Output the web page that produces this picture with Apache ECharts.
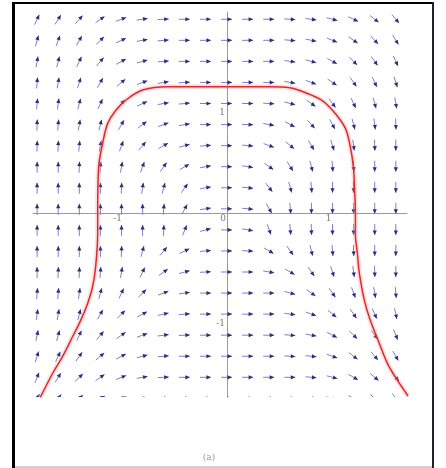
<!DOCTYPE html>
<html>
<head>
<meta charset="utf-8">
<script src="https://cdn.jsdelivr.net/npm/echarts@6/dist/echarts.min.js"></script>
<style>
  html, body { margin: 0; padding: 0; background: #fff; }
  #chart { width: 446px; height: 468px; }
</style>
</head>
<body>
<div id="chart"></div>
<script>
// Grid of sample points for the direction field
const xCols = [-1.8, -1.6, -1.4, -1.2, -1.0, -0.8, -0.6, -0.4, -0.2, 0, 0.2, 0.4, 0.6, 0.8, 1.0, 1.2, 1.4, 1.6];
const yRows = [1.84, 1.64, 1.44, 1.24, 1.04, 0.84, 0.64, 0.44, 0.24, 0.04, -0.16, -0.36, -0.56, -0.76, -0.96, -1.16, -1.36, -1.56, -1.76];

// Arrow direction (degrees, 0 = right, 90 = up), one row per entry of yRows
const arrowAngles = [
  [65, 58, 48, 35, 20, 8, 3, 0, 0, 0, 0, 0, -3, -8, -15, -25, -38, -50],
  [75, 70, 60, 45, 25, 10, 5, 0, 0, 0, 0, 0, -5, -12, -22, -35, -48, -58],
  [80, 75, 65, 50, 30, 15, 5, 0, 0, 0, 0, 0, -8, -15, -28, -45, -55, -65],
  [85, 80, 72, 60, 40, 20, 10, 3, 0, 0, 0, 0, -10, -20, -35, -55, -65, -72],
  [85, 82, 75, 65, 48, 25, 10, 5, 0, 0, 0, -3, -15, -35, -52, -65, -75, -80],
  [88, 85, 80, 75, 60, 38, 20, 10, 0, 0, -2, -10, -28, -48, -62, -75, -82, -88],
  [88, 88, 85, 80, 70, 50, 30, 15, 5, 0, -5, -20, -40, -60, -72, -82, -88, -90],
  [90, 90, 88, 85, 80, 70, 55, 30, 10, 0, -8, -35, -58, -75, -85, -88, -90, -90],
  [90, 90, 90, 90, 88, 82, 75, 55, 10, 0, -5, -52, -75, -85, -90, -90, -90, -90],
  [90, 90, 90, 90, 90, 90, 85, 62, 8, 0, -5, -60, -85, -90, -90, -90, -90, -90],
  [90, 90, 90, 90, 90, 90, 88, 68, 15, 0, -10, -70, -85, -88, -90, -90, -90, -90],
  [90, 90, 90, 90, 88, 75, 50, 25, 5, 0, -3, -30, -55, -75, -85, -88, -90, -90],
  [90, 88, 88, 85, 80, 65, 35, 15, 3, 0, 0, -10, -30, -55, -72, -82, -88, -90],
  [85, 85, 82, 75, 65, 45, 20, 8, 0, 0, 0, 0, -15, -35, -55, -70, -80, -85],
  [82, 80, 75, 60, 45, 28, 12, 5, 0, 0, 0, 0, -8, -20, -40, -55, -65, -78],
  [78, 75, 65, 50, 35, 20, 8, 3, 0, 0, 0, 0, -5, -10, -28, -45, -55, -68],
  [72, 65, 55, 40, 28, 15, 5, 0, 0, 0, 0, 0, -3, -5, -20, -38, -50, -60],
  [68, 58, 45, 35, 22, 10, 3, 0, 0, 0, 0, 0, 0, -5, -15, -30, -40, -50],
  [62, 53, 41, 29, 18, 9, 4, 0, 0, 0, 0, 0, -2, -6, -15, -28, -42, -55]
];

// Solution curve (x, y)
const curveX = [-1.77, -1.651, -1.557, -1.462, -1.387, -1.321, -1.274, -1.245, -1.226, -1.226, -1.217, -1.179, -1.132, -1.057, -0.943, -0.792, -0.566, -0.377, 0, 0.406, 0.594, 0.745, 0.906, 1.028, 1.123, 1.170, 1.198, 1.208, 1.217, 1.217, 1.236, 1.255, 1.302, 1.358, 1.443, 1.519, 1.613, 1.716];
const curveY = [-1.75, -1.519, -1.358, -1.170, -1.019, -0.858, -0.698, -0.509, -0.198, 0, 0.434, 0.660, 0.849, 0.972, 1.085, 1.170, 1.198, 1.198, 1.198, 1.198, 1.189, 1.142, 1.066, 0.943, 0.802, 0.623, 0.434, 0.245, 0, -0.198, -0.387, -0.575, -0.830, -1.019, -1.236, -1.425, -1.585, -1.737];

// Tick labels placed along the axes that cross at the origin
const xTicks = [-1, 0, 1];
const yTicks = [-1, 1];

const arrowData = [];
yRows.forEach((y, r) => {
  xCols.forEach((x, c) => arrowData.push([x, y, arrowAngles[r][c]]));
});
const curveData = curveX.map((x, i) => [x, curveY[i]]);

function renderArrow(params, api) {
  const p = api.coord([api.value(0), api.value(1)]);
  const a = api.value(2) * Math.PI / 180;
  const dx = Math.cos(a), dy = -Math.sin(a);
  const nx = -dy, ny = dx;
  const tail = [p[0] - 6 * dx, p[1] - 6 * dy];
  const tip = [p[0] + 5 * dx, p[1] + 5 * dy];
  const base = [p[0] + 0.5 * dx, p[1] + 0.5 * dy];
  const hw = 2.1;
  return {
    type: 'group',
    children: [
      { type: 'line', shape: { x1: tail[0], y1: tail[1], x2: tip[0], y2: tip[1] },
        style: { stroke: '#8080bb', lineWidth: 1 } },
      { type: 'polygon',
        shape: { points: [tip, [base[0] + hw * nx, base[1] + hw * ny], [base[0] - hw * nx, base[1] - hw * ny]] },
        style: { fill: '#2c2c86' } }
    ]
  };
}

const tickLabelStyle = { fontSize: 9, color: '#555', fontFamily: 'DejaVu Serif' };

const chart = echarts.init(document.getElementById('chart'), null, { renderer: 'canvas' });
chart.setOption({
  animation: false,
  backgroundColor: '#ffffff',
  grid: { left: 33, top: 12, width: 374, height: 385 },
  xAxis: {
    type: 'value', min: -1.839, max: 1.706,
    axisLine: { onZero: true, lineStyle: { color: '#9a9a9a', width: 1 } },
    axisTick: { show: false },
    splitLine: { show: false },
    axisLabel: { show: false }
  },
  yAxis: {
    type: 'value', min: -1.747, max: 1.909,
    axisLine: { onZero: true, lineStyle: { color: '#9a9a9a', width: 1 } },
    axisTick: { show: false },
    splitLine: { show: false },
    axisLabel: { show: false }
  },
  series: [
    {
      type: 'custom', coordinateSystem: 'cartesian2d', clip: true, silent: true, z: 2,
      data: arrowData, encode: { x: 0, y: 1 }, renderItem: renderArrow
    },
    {
      type: 'line', data: curveData, smooth: 0.35, showSymbol: false, clip: true, silent: true, z: 3,
      lineStyle: { color: 'rgba(255,140,140,0.28)', width: 5 }
    },
    {
      type: 'line', data: curveData, smooth: 0.35, showSymbol: false, clip: true, silent: true, z: 4,
      lineStyle: { color: '#dd2a2a', width: 1.5 }
    },
    {
      type: 'scatter', symbolSize: 0, silent: true, z: 5,
      data: xTicks.map(v => [v, 0]),
      label: Object.assign({ show: true, position: 'inside', offset: [-4, 6], formatter: p => String(p.value[0]) }, tickLabelStyle)
    },
    {
      type: 'scatter', symbolSize: 0, silent: true, z: 5,
      data: yTicks.map(v => [0, v]),
      label: Object.assign({ show: true, position: 'inside', align: 'right', offset: [-2, 5], formatter: p => String(p.value[1]) }, tickLabelStyle)
    }
  ],
  graphic: [
    { type: 'rect', shape: { x: 12, y: 2, width: 3, height: 466 }, style: { fill: '#000' }, silent: true },
    { type: 'rect', shape: { x: 12, y: 2, width: 422, height: 2 }, style: { fill: '#000' }, silent: true },
    { type: 'rect', shape: { x: 432, y: 2, width: 2, height: 466 }, style: { fill: '#222' }, silent: true },
    { type: 'rect', shape: { x: 15, y: 466, width: 417, height: 2 }, style: { fill: '#d0d0d0' }, silent: true },
    { type: 'text', x: 209, y: 458, style: { text: '(a)', fontSize: 9, fill: '#999', align: 'center', verticalAlign: 'middle', fontFamily: 'DejaVu Serif' }, silent: true }
  ]
});
</script>
</body>
</html>
